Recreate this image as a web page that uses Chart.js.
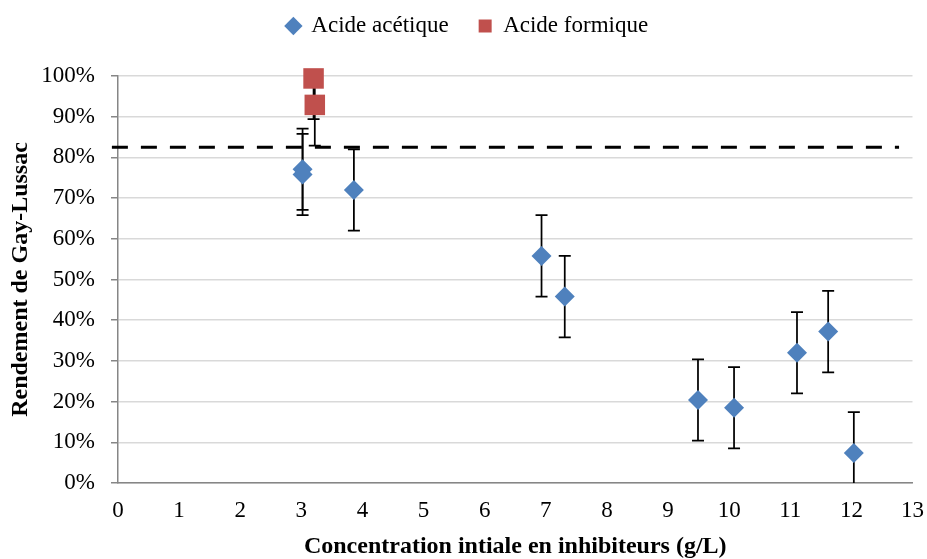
<!DOCTYPE html>
<html>
<head>
<meta charset="utf-8">
<script src="https://cdn.jsdelivr.net/npm/chart.js@4.4.1/dist/chart.umd.min.js"></script>
<style>
  html, body { margin: 0; padding: 0; background: #fff; }
</style>
</head>
<body>
<canvas id="chart" width="927" height="559"></canvas>
<script>
// Acide acétique
const aceticX = [3.02, 3.02, 3.86, 6.93, 7.31, 9.49, 10.08, 11.11, 11.62, 12.04];
const aceticY = [77.1, 75.8, 72.0, 55.8, 45.8, 20.4, 18.5, 32.0, 37.2, 7.4];
const aceticErr = [10, 10, 10, 10, 10, 10, 10, 10, 10, 10];

// Acide formique
const formicX = [3.2, 3.22];
const formicY = [99.4, 92.9];
const formicErr = [10, 10];

// dashed reference line
const refX = [-0.1, 12.78];
const refY = 82.5;

const xTicks = { min: 0, max: 13, step: 1 };
const yTicks = { min: 0, max: 100, step: 10 };

const serif = "'Liberation Serif', 'Times New Roman', serif";
Chart.defaults.font.family = serif;
Chart.defaults.color = "#000";

const toPoints = (xs, ys) => xs.map((x, i) => ({ x, y: ys[i] }));

// error bars, drawn through the chart scales
const errorBars = {
  id: "errorBars",
  beforeDatasetsDraw(chart) {
    const { ctx, chartArea, scales: { x, y } } = chart;
    ctx.save();
    ctx.beginPath();
    ctx.rect(chartArea.left, chartArea.top, chartArea.right - chartArea.left, chartArea.bottom - chartArea.top);
    ctx.clip();
    ctx.strokeStyle = "#000";
    ctx.lineWidth = 1.75;
    const sets = [
      [aceticX, aceticY, aceticErr],
      [formicX, formicY, formicErr],
    ];
    sets.forEach(([xs, ys, es]) => {
      xs.forEach((xv, i) => {
        const px = x.getPixelForValue(xv);
        const top = y.getPixelForValue(ys[i] + es[i]);
        const bot = y.getPixelForValue(ys[i] - es[i]);
        ctx.beginPath();
        ctx.moveTo(px, top);
        ctx.lineTo(px, bot);
        ctx.moveTo(px - 6, top);
        ctx.lineTo(px + 6, top);
        ctx.moveTo(px - 6, bot);
        ctx.lineTo(px + 6, bot);
        ctx.stroke();
      });
    });
    ctx.restore();
  },
};

// give the legend a fixed height so the plot starts where it should
const legendHeight = {
  id: "legendHeight",
  afterInit(chart) {
    const fit = chart.legend.fit;
    chart.legend.fit = function () {
      fit.call(this);
      this.height = 91.5;
    };
  },
};

new Chart(document.getElementById("chart"), {
  type: "scatter",
  data: {
    datasets: [
      {
        label: "Acide acétique",
        data: toPoints(aceticX, aceticY),
        pointStyle: "rectRot",
        pointRadius: 10,
        backgroundColor: "#4f81bd",
        borderColor: "#4f81bd",
        borderWidth: 0,
        clip: false,
      },
      {
        label: "Acide formique",
        data: toPoints(formicX, formicY),
        pointStyle: "rect",
        pointRadius: 14.5,
        backgroundColor: "#c0504d",
        borderColor: "#c0504d",
        borderWidth: 0,
        clip: false,
      },
      {
        type: "line",
        label: "ref",
        data: refX.map((x) => ({ x, y: refY })),
        borderColor: "#000",
        borderWidth: 3,
        borderDash: [16, 13],
        pointRadius: 0,
        fill: false,
        clip: false,
      },
    ],
  },
  options: {
    responsive: false,
    animation: false,
    events: [],
    layout: { padding: { top: -15.5, left: 22, right: 14, bottom: 0 } },
    plugins: {
      tooltip: { enabled: false },
      legend: {
        position: "top",
        labels: {
          usePointStyle: true,
          boxWidth: 13,
          boxHeight: 13,
          padding: 30,
          font: { size: 23, family: serif },
          color: "#000",
          filter: (item) => item.datasetIndex < 2,
        },
      },
    },
    scales: {
      x: {
        type: "linear",
        min: xTicks.min,
        max: xTicks.max,
        afterFit: (s) => {
          s.height = 76;
          s.paddingRight = 0;
        },
        ticks: { stepSize: xTicks.step, padding: 14, font: { size: 23 }, color: "#000" },
        grid: { display: false, drawTicks: false },
        border: { display: true, color: "#868686", width: 1.5 },
        title: {
          display: true,
          text: "Concentration intiale en inhibiteurs (g/L)",
          font: { size: 24, weight: "bold", lineHeight: 1 },
          padding: 0,
          color: "#000",
        },
      },
      y: {
        min: yTicks.min,
        max: yTicks.max,
        afterFit: (s) => { s.width = 96; },
        ticks: {
          stepSize: yTicks.step,
          padding: 16,
          font: { size: 23 },
          color: "#000",
          callback: (v) => v + "%",
        },
        grid: { color: "#d9d9d9", lineWidth: 1.5, tickLength: 7, tickColor: "#868686", tickWidth: 1.5 },
        border: { display: true, color: "#868686", width: 1.5 },
        title: {
          display: true,
          text: "Rendement de Gay-Lussac",
          font: { size: 24, weight: "bold", lineHeight: 1 },
          padding: { top: -13.4, bottom: 0 },
          color: "#000",
        },
      },
    },
  },
  plugins: [errorBars, legendHeight],
});
</script>
</body>
</html>
